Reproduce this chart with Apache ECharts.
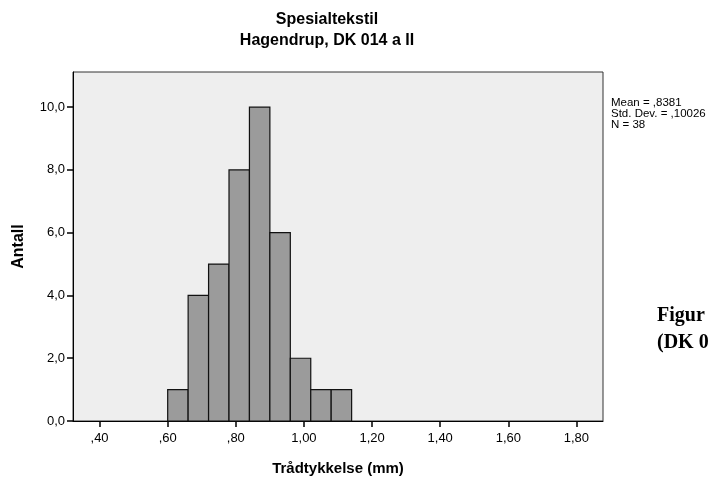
<!DOCTYPE html>
<html>
<head>
<meta charset="utf-8">
<script src="https://cdn.jsdelivr.net/npm/echarts@6/dist/echarts.min.js"></script>
<style>
  html, body { margin: 0; padding: 0; background: #ffffff; }
  #chart { width: 720px; height: 478px; }
</style>
</head>
<body>
<div id="chart"></div>
<script>
// Histogram bins: left edge of each bin and its count
const binStarts = [0.60, 0.66, 0.72, 0.78, 0.84, 0.90, 0.96, 1.02, 1.08];
const binWidth = 0.06;
const counts = [1, 4, 5, 8, 10, 6, 2, 1, 1];

const xTicks = [0.4, 0.6, 0.8, 1.0, 1.2, 1.4, 1.6, 1.8];
const yTicks = [0, 2, 4, 6, 8, 10];

const titleLines = ['Spesialtekstil', 'Hagendrup, DK 014 a II'];
const statsLines = ['Mean = ,8381', 'Std. Dev. = ,10026', 'N = 38'];
const sideLines = ['Figur', '(DK 0'];

const FONT = '"Liberation Sans", Arial, sans-serif';

function fmtX(v) {
  let s = v.toFixed(2).replace('.', ',');
  if (s.startsWith('0,')) s = s.slice(1);
  return s;
}
function fmtY(v) {
  return v.toFixed(1).replace('.', ',');
}

const chart = echarts.init(document.getElementById('chart'), null, { renderer: 'canvas' });

const option = {
  animation: false,
  backgroundColor: '#ffffff',
  grid: {
    left: 73, right: 117, top: 72, bottom: 57,
    outerBoundsMode: 'none',
    containLabel: false,
    show: true,
    backgroundColor: '#eeeeee',
    borderColor: '#333333',
    borderWidth: 1
  },
  xAxis: {
    type: 'value',
    min: 0.322,
    max: 1.878,
    name: 'Trådtykkelse (mm)',
    nameLocation: 'middle',
    nameGap: 40,
    nameTextStyle: { fontFamily: FONT, fontSize: 15, fontWeight: 'bold', color: '#000000' },
    axisLine: { show: true, lineStyle: { color: '#000000', width: 1 } },
    axisTick: { show: true, length: 6, lineStyle: { color: '#000000', width: 1.5 }, customValues: xTicks },
    axisLabel: {
      customValues: xTicks,
      formatter: fmtX,
      fontFamily: FONT, fontSize: 13, color: '#000000', margin: 11
    },
    splitLine: { show: false }
  },
  yAxis: {
    type: 'value',
    min: 0,
    max: 11.12,
    name: 'Antall',
    nameLocation: 'middle',
    nameGap: 46,
    nameRotate: 90,
    nameTextStyle: { fontFamily: FONT, fontSize: 16, fontWeight: 'bold', color: '#000000' },
    axisLine: { show: true, lineStyle: { color: '#000000', width: 1 } },
    axisTick: { show: true, length: 6, lineStyle: { color: '#000000', width: 1.5 }, customValues: yTicks },
    axisLabel: {
      customValues: yTicks,
      formatter: fmtY,
      fontFamily: FONT, fontSize: 13, color: '#000000', margin: 8
    },
    splitLine: { show: false }
  },
  series: [{
    type: 'custom',
    data: binStarts.map((s, i) => [s, s + binWidth, counts[i]]),
    encode: { x: [0, 1], y: 2 },
    renderItem: function (params, api) {
      const p0 = api.coord([api.value(0), 0]);
      const p1 = api.coord([api.value(1), api.value(2)]);
      return {
        type: 'rect',
        shape: { x: p0[0], y: p1[1], width: p1[0] - p0[0], height: p0[1] - p1[1] },
        style: { fill: '#9b9b9b', stroke: '#111111', lineWidth: 1.2 }
      };
    }
  }],
  graphic: [
    {
      type: 'text',
      style: {
        x: 327, y: 9,
        text: titleLines.join('\n'),
        font: 'bold 16px ' + FONT,
        fill: '#000000',
        align: 'center',
        lineHeight: 21
      }
    },
    {
      type: 'text',
      style: {
        x: 611, y: 97,
        text: statsLines.join('\n'),
        font: '11.5px ' + FONT,
        fill: '#000000',
        lineHeight: 11
      }
    },
    {
      type: 'text',
      style: {
        x: 657, y: 302,
        text: sideLines.join('\n'),
        font: 'bold 20px "Liberation Serif", "Times New Roman", serif',
        fill: '#000000',
        lineHeight: 27
      }
    }
  ]
};

chart.setOption(option);
</script>
</body>
</html>
